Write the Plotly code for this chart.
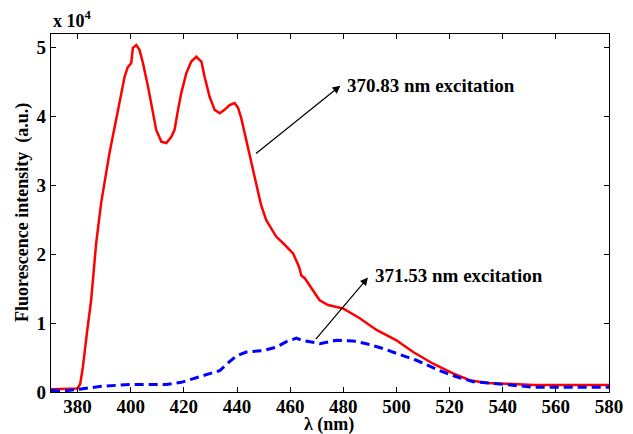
import plotly.graph_objects as go

# Red curve: 370.83 nm excitation (intensity in units of 1e4)
red_x = [370, 374, 378, 380, 381, 382.0, 383.5, 385.1, 387.0, 388.9, 392.0, 393.9, 395.8, 397.7, 398.9, 400.2,
         400.8, 402.1, 403.3, 404.6, 406.5, 408.3, 409.6, 411.5, 413.4, 415.3, 416.5, 417.8, 419.0,
         420.9, 422.8, 424.7, 426.6, 427.8, 429.7, 431.6, 433.5, 435.3, 437.2, 439.1, 440.4, 441.6,
         443.5, 445.4, 447.3, 449.0, 451.0, 454.8, 457.3, 461.1, 463.4, 464.2, 465.5, 468.0, 471.1,
         474.3, 479.9, 486.2, 492.5, 500.0, 506.3, 513.8, 521.3, 527.6, 533.9, 541.4, 551.5, 565, 580]
red_y = [0.04, 0.04, 0.04, 0.05, 0.12, 0.36, 0.85, 1.33, 2.16, 2.75, 3.46, 3.84, 4.19, 4.57, 4.71, 4.77,
         4.99, 5.03, 4.96, 4.77, 4.43, 4.04, 3.80, 3.63, 3.61, 3.70, 3.80, 4.09, 4.33,
         4.62, 4.79, 4.86, 4.79, 4.57, 4.28, 4.09, 4.04, 4.09, 4.16, 4.19, 4.12, 3.97,
         3.65, 3.36, 3.02, 2.72, 2.49, 2.25, 2.16, 2.01, 1.81, 1.69, 1.65, 1.50, 1.33,
         1.26, 1.21, 1.07, 0.90, 0.75, 0.58, 0.41, 0.27, 0.17, 0.13, 0.12, 0.10, 0.10, 0.10]

# Blue dashed curve: 371.53 nm excitation
blue_x = [370, 376, 380.7, 388.3, 399.6, 413.4, 419.0, 423.4, 429.7, 433.5, 437.2, 439.7, 443.5, 449.8,
          454.8, 458.6, 462.4, 464.2, 468.6, 471.1, 477.4, 483.7, 488.7, 495.0, 500.0, 507.5,
          516.3, 522.6, 528.9, 536.4, 545.2, 551.5, 565, 580]
blue_y = [0.02, 0.02, 0.04, 0.08, 0.11, 0.11, 0.14, 0.19, 0.26, 0.31, 0.44, 0.52, 0.58, 0.60,
          0.65, 0.73, 0.78, 0.75, 0.72, 0.70, 0.75, 0.74, 0.70, 0.63, 0.56, 0.46,
          0.31, 0.22, 0.15, 0.12, 0.09, 0.07, 0.07, 0.07]

x_ticks = [380, 400, 420, 440, 460, 480, 500, 520, 540, 560, 580]
y_ticks = [0, 1, 2, 3, 4, 5]

FONT = "Liberation Serif"

fig = go.Figure()
fig.add_trace(go.Scatter(x=red_x, y=red_y, mode="lines",
                         line=dict(color="#ff0000", width=2.5), showlegend=False))
fig.add_trace(go.Scatter(x=blue_x, y=blue_y, mode="lines",
                         line=dict(color="#0000ff", width=3, dash="9px,5px"), showlegend=False))

ann_font = dict(family=FONT, size=19, color="black")
fig.add_annotation(x=478.9, y=4.44, ax=446.6, ay=3.44, xref="x", yref="y", axref="x", ayref="y",
                   showarrow=True, arrowhead=2, arrowsize=1.3, arrowwidth=1.2, arrowcolor="black", text="")
fig.add_annotation(x=480.8, y=4.44, xref="x", yref="y", text="<b>370.83 nm excitation</b>",
                   showarrow=False, xanchor="left", yanchor="middle", font=ann_font)
fig.add_annotation(x=489.3, y=1.66, ax=469.2, ay=0.745, xref="x", yref="y", axref="x", ayref="y",
                   showarrow=True, arrowhead=2, arrowsize=1.3, arrowwidth=1.2, arrowcolor="black", text="")
fig.add_annotation(x=491.0, y=1.69, xref="x", yref="y", text="<b>371.53 nm excitation</b>",
                   showarrow=False, xanchor="left", yanchor="middle", font=ann_font)
fig.add_annotation(x=0, y=1, xref="paper", yref="paper", yshift=1, text="<b>x 10<sup>4</sup></b>",
                   showarrow=False, xanchor="left", yanchor="bottom", font=dict(family=FONT, size=18, color="black"))

# Axis titles as annotations for exact placement
fig.add_annotation(x=0.498, y=0, xref="paper", yref="paper", yshift=-32, text="<b>λ (nm)</b>",
                   showarrow=False, xanchor="center", yanchor="middle",
                   font=dict(family=FONT, size=18, color="black"))
fig.add_annotation(x=0, y=0.5, xref="paper", yref="paper", xshift=-29, textangle=-90,
                   text="<b>Fluorescence intensity  (a.u.)</b>", showarrow=False,
                   xanchor="center", yanchor="middle", font=dict(family=FONT, size=18, color="black"))

axis_common = dict(showline=True, linecolor="black", linewidth=1.2, mirror="ticks",
                   ticks="inside", ticklen=5, tickcolor="black", showgrid=False, zeroline=False,
                   automargin=False, tickfont=dict(family=FONT, size=19, color="black"))

fig.update_xaxes(range=[370, 580], tickvals=x_ticks, ticktext=[f"<b>{v}</b>" for v in x_ticks],
                 ticklabelstandoff=-3, **axis_common)
fig.update_yaxes(range=[0, 5.19], tickvals=y_ticks, ticktext=[f"<b>{v}</b>" for v in y_ticks],
                 **axis_common)

fig.update_layout(width=633, height=434, margin=dict(l=51, r=24, t=34, b=42),
                  plot_bgcolor="white", paper_bgcolor="white")

fig.write_html("out.html")
